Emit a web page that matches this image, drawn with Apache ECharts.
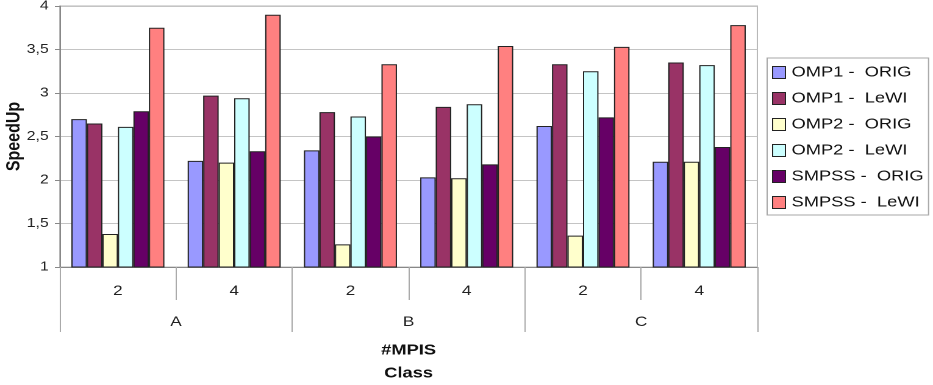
<!DOCTYPE html>
<html>
<head>
<meta charset="utf-8">
<script src="https://cdn.jsdelivr.net/npm/echarts@6/dist/echarts.min.js"></script>
<style>
  html, body { margin: 0; padding: 0; background: #fff; overflow: hidden; }
  #wrap { width: 933px; height: 385px; overflow: hidden; }
  /* the chart is laid out in a narrower box and widened horizontally */
  #chart { width: 765px; height: 385px; transform: scaleX(1.2196); transform-origin: 0 0; }
</style>
</head>
<body>
<div id="wrap"><div id="chart"></div></div>
<script>
// #MPIS per class, and the classes they belong to
const mpis = ['2', '4', '2', '4', '2', '4'];
const classes = ['A', 'B', 'C'];

const seriesNames = ['OMP1 -  ORIG', 'OMP1 -  LeWI', 'OMP2 -  ORIG', 'OMP2 -  LeWI', 'SMPSS -  ORIG', 'SMPSS -  LeWI'];
const seriesColors = ['#9999ff', '#993366', '#ffffcc', '#ccffff', '#660066', '#ff8080'];

// speed-up values, one per (class, #MPIS) column
const omp1Orig  = [2.70, 2.22, 2.34, 2.03, 2.62, 2.21];
const omp1Lewi  = [2.65, 2.97, 2.78, 2.84, 3.33, 3.35];
const omp2Orig  = [1.38, 2.20, 1.26, 2.02, 1.36, 2.21];
const omp2Lewi  = [2.61, 2.94, 2.73, 2.87, 3.25, 3.32];
const smpssOrig = [2.79, 2.33, 2.50, 2.18, 2.72, 2.38];
const smpssLewi = [3.75, 3.90, 3.33, 3.54, 3.53, 3.78];

const yMin = 1, yMax = 4, yStep = 0.5;

const seriesData = [omp1Orig, omp1Lewi, omp2Orig, omp2Lewi, smpssOrig, smpssLewi];
const FONT = '"Liberation Sans", Arial, Helvetica, sans-serif';

const chart = echarts.init(document.getElementById('chart'), null, { renderer: 'canvas', devicePixelRatio: 2 });

chart.setOption({
  animation: false,
  backgroundColor: '#ffffff',
  textStyle: { fontFamily: FONT },
  grid: {
    left: 49, right: 144, top: 6, bottom: 118,
    containLabel: false,
    outerBoundsMode: 'none',
    show: true, borderColor: '#b8b8b8', borderWidth: 1, backgroundColor: 'transparent'
  },
  legend: {
    orient: 'vertical',
    left: 629, top: 58,
    padding: [7, 4, 5, 4],
    itemWidth: 10.5, itemHeight: 12, itemGap: 11,
    borderColor: '#a8a8a8', borderWidth: 1,
    icon: 'rect',
    itemStyle: { borderColor: '#222', borderWidth: 1 },
    textStyle: { fontFamily: FONT, fontSize: 15, color: '#111' },
    data: seriesNames
  },
  xAxis: [
    {
      type: 'category',
      data: mpis,
      position: 'bottom',
      name: '#MPIS',
      nameLocation: 'middle',
      nameGap: 76,
      nameMoveOverlap: false,
      nameTextStyle: { fontFamily: FONT, fontSize: 15, fontWeight: 'bold', color: '#111' },
      axisLine: { show: true, lineStyle: { color: '#888', width: 1 } },
      axisTick: { show: true, interval: 0, length: 33, lineStyle: { color: '#aaa' } },
      axisLabel: { interval: 0, margin: 17, fontSize: 14, color: '#222', fontFamily: FONT },
      splitLine: { show: false }
    },
    {
      type: 'category',
      data: classes,
      position: 'bottom',
      name: 'Class',
      nameLocation: 'middle',
      nameGap: 99,
      nameMoveOverlap: false,
      nameTextStyle: { fontFamily: FONT, fontSize: 15, fontWeight: 'bold', color: '#111' },
      axisLine: { show: false },
      axisTick: { show: true, interval: 0, length: 65, lineStyle: { color: '#aaa' } },
      axisLabel: { interval: 0, margin: 48, fontSize: 14, color: '#222', fontFamily: FONT },
      splitLine: { show: false }
    }
  ],
  yAxis: {
    type: 'value',
    min: yMin, max: yMax, interval: yStep,
    name: 'SpeedUp',
    nameLocation: 'middle',
    nameRotate: 90,
    nameGap: 29.5,
    nameMoveOverlap: false,
    nameTextStyle: { fontFamily: FONT, fontSize: 16, fontWeight: 'bold', color: '#111' },
    axisLine: { show: true, lineStyle: { color: '#888', width: 1 } },
    axisTick: { show: true, length: 4, lineStyle: { color: '#888' } },
    axisLabel: {
      margin: 9, fontSize: 13, color: '#222', fontFamily: FONT,
      formatter: v => String(v).replace('.', ',')
    },
    splitLine: { show: true, lineStyle: { color: '#c4c4c4', width: 1 } }
  },
  series: seriesNames.map((name, i) => ({
    name,
    type: 'bar',
    xAxisIndex: 0,
    data: seriesData[i],
    barGap: '0%',
    barCategoryGap: '20%',
    clip: true,
    itemStyle: { color: seriesColors[i], borderColor: '#222', borderWidth: 1 }
  }))
});
</script>
</body>
</html>
